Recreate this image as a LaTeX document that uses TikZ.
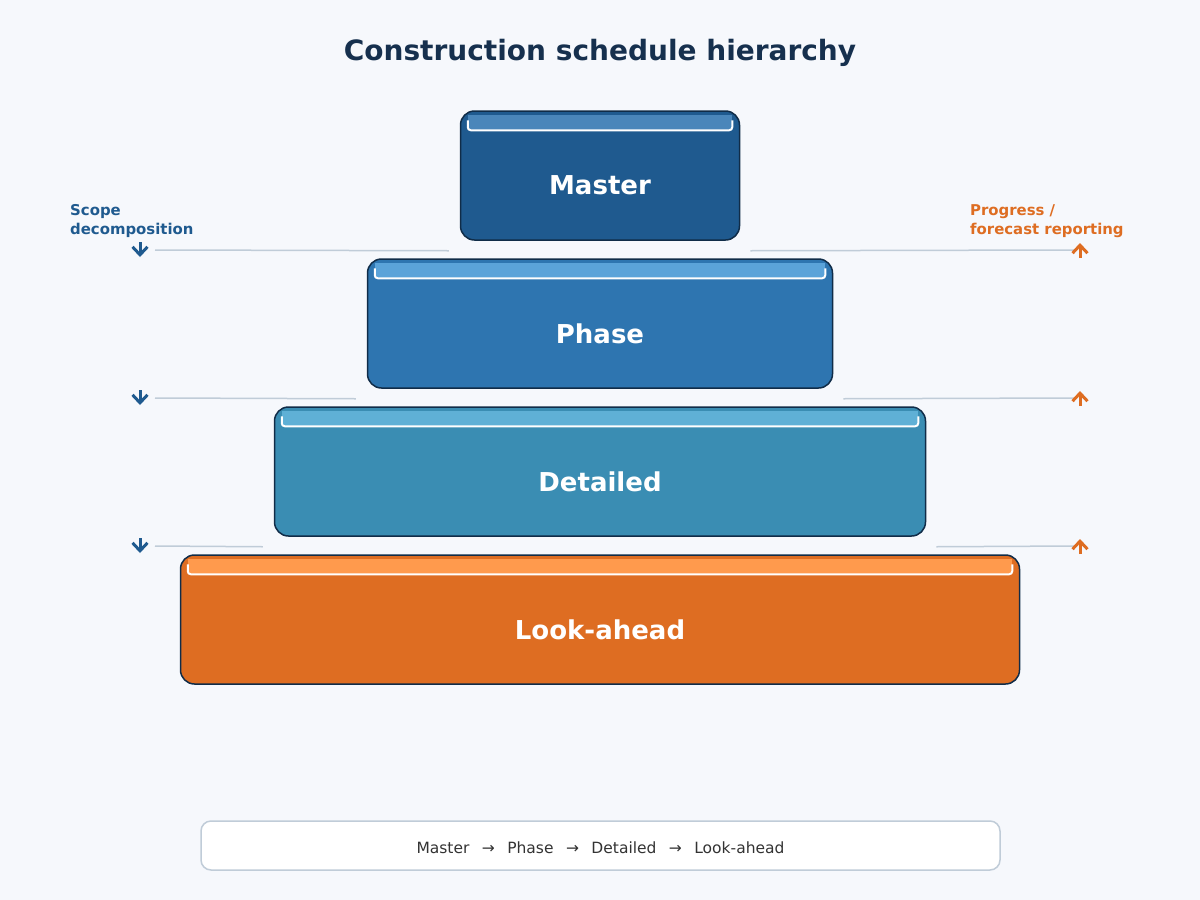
\documentclass[tikz,border=0pt]{standalone}
\usepackage{fontspec}
\setmainfont{DejaVu Sans}
\usepackage{tikz}
\definecolor{pagebg}{RGB}{246,248,252}
\definecolor{titleblue}{RGB}{22,48,78}
\definecolor{edgeblue}{RGB}{16,44,72}
\definecolor{masterfill}{RGB}{31,90,143}
\definecolor{masterstripe}{RGB}{74,134,186}
\definecolor{phasefill}{RGB}{46,117,176}
\definecolor{phasestripe}{RGB}{91,163,217}
\definecolor{detailfill}{RGB}{58,141,179}
\definecolor{detailstripe}{RGB}{95,176,214}
\definecolor{lookfill}{RGB}{222,109,34}
\definecolor{lookstripe}{RGB}{255,154,77}
\definecolor{guidegray}{RGB}{192,204,216}
\definecolor{downblue}{RGB}{31,90,143}
\definecolor{uporange}{RGB}{222,109,34}
\definecolor{legendtext}{RGB}{51,51,51}
\usetikzlibrary{arrows.meta,calc}

\begin{document}
\begin{tikzpicture}[x=1pt,y=-1pt,
    tier/.style={draw=edgeblue,line width=1.5pt,rounded corners=14pt,
      minimum height=129pt,inner sep=0pt},
    tiertext/.style={text=white,font=\bfseries\fontsize{26}{30}\selectfont},
    guide/.style={guidegray,line width=1.5pt},
    sidenote/.style={font=\bfseries\fontsize{14.9}{19}\selectfont,align=left,anchor=north west,inner sep=0pt},
    downarrow/.style={downblue,line width=3pt,-{Straight Barb[length=8pt,width=15pt]}},
    uparrow/.style={uporange,line width=3pt,-{Straight Barb[length=8pt,width=15pt]}}
    ]
    \fill[pagebg] (0,0) rectangle (1200,900);

    \node (title) at (600,53) [text=titleblue,font=\bfseries\fontsize{28}{32}\selectfont] {Construction schedule hierarchy};

    % the four tiers
    \node (master) [tier,fill=masterfill,minimum width=279pt] at (600,175.5) {};
    \node (phase) [tier,fill=phasefill,minimum width=465pt] at (600,323.5) {};
    \node (detail) [tier,fill=detailfill,minimum width=651pt] at (600,471.5) {};
    \node (look) [tier,fill=lookfill,minimum width=839pt] at (600,619.5) {};

    % top stripes
    \foreach \t/\s in {master/masterstripe,phase/phasestripe,detail/detailstripe,look/lookstripe}{
      \fill[\s] ($(\t.north west)+(8,5)$) rectangle ($(\t.north east)+(-8,20)$);
      \draw[white,line width=2pt,rounded corners=3pt] ($(\t.north west)+(8,10)$) -- ($(\t.north west)+(8,20)$)
        -- ($(\t.north east)+(-8,20)$) -- ($(\t.north east)+(-8,10)$);
    }

    \node (mastertext) [tiertext] at ($(master.center)+(0,10)$) {Master};
    \node (phasetext) [tiertext] at ($(phase.center)+(0,10)$) {Phase};
    \node (detailtext) [tiertext] at ($(detail.center)+(0,10)$) {Detailed};
    \node (looktext) [tiertext] at ($(look.center)+(0,10)$) {Look-ahead};

    % guide lines between tiers
    \draw[guide] (155,250) -- ($(master.south west)+(-11,10)$);
    \draw[guide] ($(master.south east)+(10,10)$) -- (1075,250);
    \draw[guide] (155,398) -- ($(phase.south west)+(-11,10)$);
    \draw[guide] ($(phase.south east)+(10,10)$) -- (1075,398);
    \draw[guide] (155,546) -- ($(detail.south west)+(-11,10)$);
    \draw[guide] ($(detail.south east)+(10,10)$) -- (1075,546);

    % direction markers
    \foreach \y in {250,398,546}{
      \coordinate (dtop\y) at (140,\y-8);
      \coordinate (dbot\y) at (140,\y+7);
      \coordinate (utop\y) at (1080,\y-7);
      \coordinate (ubot\y) at (1080,\y+8);
      \draw[downarrow] (dtop\y) -- (dbot\y);
      \draw[uparrow] (ubot\y) -- (utop\y);
    }

    \node (scope) [sidenote,text=downblue] at (70,204) {Scope\\decomposition};
    \node (progress) [sidenote,text=uporange] at (970,204) {Progress /\\forecast reporting};

    % legend
    \node (legend) [draw=guidegray,line width=1.5pt,fill=white,rounded corners=10pt,
      minimum width=799pt,minimum height=49pt] at (600.5,845.5) {};
    \node (legendtext) [text=legendtext,font=\fontsize{15.5}{18}\selectfont] at ($(legend.center)+(0,2.5)$)
      {Master\ \ \,→\ \ \,Phase\ \ \,→\ \ \,Detailed\ \ \,→\ \ \,Look-ahead};
\end{tikzpicture}
\end{document}
